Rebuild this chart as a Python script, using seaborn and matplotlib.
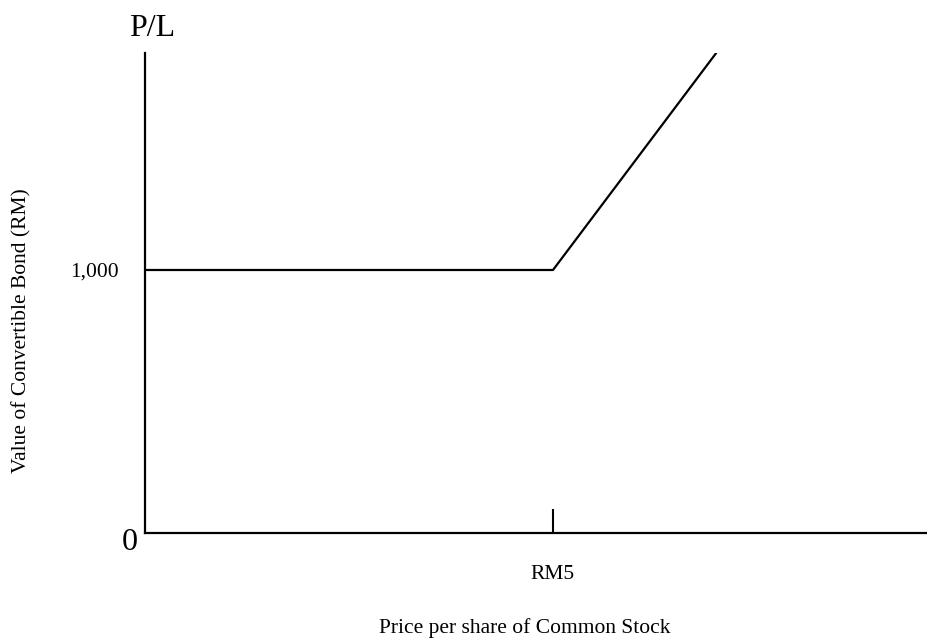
import matplotlib
matplotlib.use("Agg")
import matplotlib.pyplot as plt
import seaborn as sns
import pandas as pd

# payoff of convertible bond vs share price
price = [0, 5, 7]
bond_value = [1000, 1000, 1825]
x_ticks = [5]
x_tick_labels = ["RM5"]
y_ticks = [1000]
y_tick_labels = ["1,000"]

sns.set_style("white")
plt.rcParams['font.family'] = ['Liberation Serif', 'DejaVu Serif']
plt.rcParams['text.color'] = 'black'
plt.rcParams['xtick.color'] = 'black'
plt.rcParams['ytick.color'] = 'black'

df = pd.DataFrame({'price': price, 'value': bond_value})

fig = plt.figure(figsize=(9.28, 6.42), dpi=100)
ax = fig.add_axes([145 / 928, 109 / 642, 783 / 928, 480 / 642])

sns.lineplot(data=df, x='price', y='value', color='black', linewidth=1.6, ax=ax)

ax.set_xlim(0, 783 / 81.6)
ax.set_ylim(0, 1825)

for s in ['top', 'right']:
    ax.spines[s].set_visible(False)
for s in ['left', 'bottom']:
    ax.spines[s].set_color('black')
    ax.spines[s].set_linewidth(1.6)

ax.set_xticks(x_ticks)
ax.set_xticklabels(x_tick_labels, fontsize=15.5)
ax.tick_params(axis='x', bottom=True, direction='in', length=17, width=1.5,
               color='black', pad=23)
ax.set_yticks(y_ticks)
ax.set_yticklabels(y_tick_labels, fontsize=15.5)
ax.tick_params(axis='y', left=False, length=0, pad=19)

ax.set_xlabel('')
ax.set_ylabel('')
fig.text(525 / 928, 1 - 628 / 642, 'Price per share of Common Stock', fontsize=15.5,
         ha='center', va='center')
fig.text(22 / 928, 1 - 331 / 642, 'Value of Convertible Bond (RM)', fontsize=15.5,
         rotation=90, ha='center', va='center')
fig.text(152 / 928, 1 - 28 / 642, 'P/L', fontsize=23, ha='center', va='center')
fig.text(130 / 928, 1 - 543 / 642, '0', fontsize=23, ha='center', va='center')

fig.savefig('out.png', dpi=100)
